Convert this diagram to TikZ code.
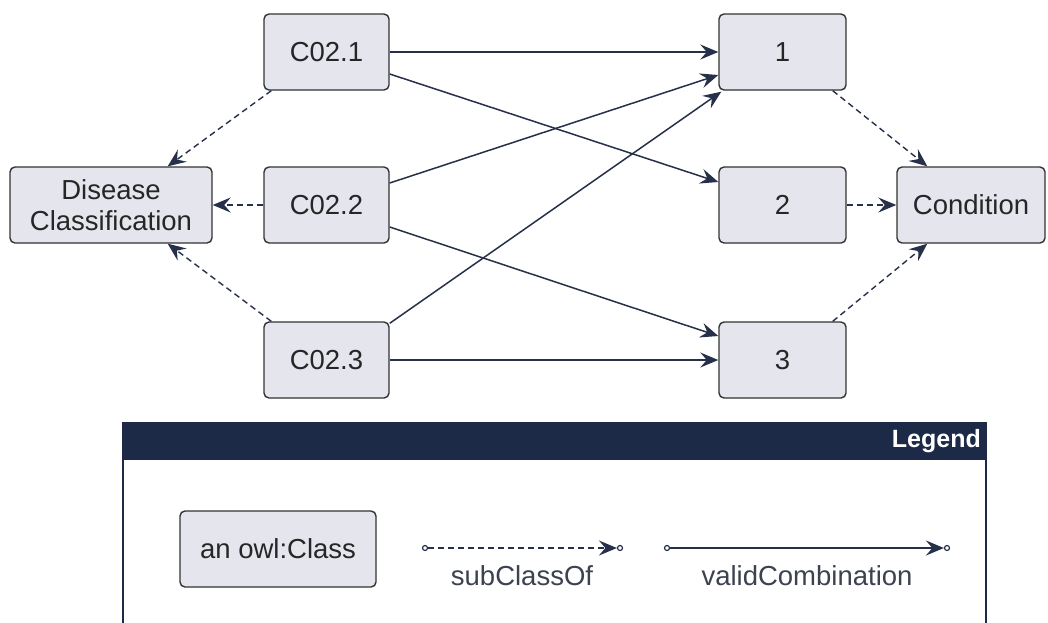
\documentclass[tikz,border=0pt]{standalone}
\usepackage{fontspec}
\setmainfont{Liberation Sans}
\usetikzlibrary{arrows.meta}
\definecolor{boxfill}{HTML}{E5E5EE}
\definecolor{boxline}{HTML}{333333}
\definecolor{edgecol}{HTML}{263048}
\definecolor{headcol}{HTML}{1C2A47}
\definecolor{txtcol}{HTML}{262626}
\definecolor{lbltxt}{HTML}{3C4250}
\tikzset{
  classbox/.style={rectangle, rounded corners=5pt, draw=boxline, line width=1.4pt,
    fill=boxfill, inner sep=0pt, align=center, text=txtcol,
    font=\fontsize{27.5}{31}\selectfont},
  tip/.style={-{Stealth[length=18pt,width=15pt,inset=6.5pt]}},
  validcomb/.style={tip, draw=edgecol, line width=1.5pt},
  subclass/.style={tip, draw=edgecol, line width=1.4pt, dash pattern=on 6pt off 4pt},
  endring/.style={circle, draw=edgecol, fill=white, line width=1.2pt, inner sep=0pt, minimum size=5pt},
  legendlabel/.style={text=lbltxt, font=\fontsize{27.5}{31}\selectfont, inner sep=0pt}
}
\begin{document}
\begin{tikzpicture}[x=1pt,y=-1pt]
\useasboundingbox (0,0) rectangle (1048,622);
\fill[white] (0,0) rectangle (1048,622);

% classes
\node[classbox, minimum width=125pt, minimum height=76pt] (c1) at (326.5,52) {C02.1};
\node[classbox, minimum width=125pt, minimum height=76pt] (c2) at (326.5,205) {C02.2};
\node[classbox, minimum width=125pt, minimum height=76pt] (c3) at (326.5,360) {C02.3};
\node[classbox, minimum width=202pt, minimum height=76pt] (dc) at (111,205) {Disease\\Classification};
\node[classbox, minimum width=127pt, minimum height=76pt] (n1) at (782.5,52) {1};
\node[classbox, minimum width=127pt, minimum height=76pt] (n2) at (782.5,205) {2};
\node[classbox, minimum width=127pt, minimum height=76pt] (n3) at (782.5,360) {3};
\node[classbox, minimum width=148pt, minimum height=76pt] (cond) at (971,205) {Condition};

% validCombination links
\draw[validcomb] (c1.east) -- (n1.west);
\draw[validcomb] ([yshift=-22pt]c1.east) -- ([yshift=23pt]n2.west);
\draw[validcomb] ([yshift=22pt]c2.east) -- ([yshift=-23pt]n1.west);
\draw[validcomb] ([yshift=-2pt]c3.north east) -- ([xshift=3pt,yshift=-1pt]n1.south west);
\draw[validcomb] ([yshift=-22pt]c2.east) -- ([yshift=24pt]n3.west);
\draw[validcomb] (c3.east) -- (n3.west);

% subClassOf links
\draw[subclass] ([xshift=8pt]c1.south west) -- ([xshift=-45pt]dc.north east);
\draw[subclass] (c2.west) -- (dc.east);
\draw[subclass] ([xshift=8pt]c3.north west) -- ([xshift=-45pt]dc.south east);
\draw[subclass] ([xshift=-14pt]n1.south east) -- ([xshift=31pt]cond.north west);
\draw[subclass] (n2.east) -- (cond.west);
\draw[subclass] ([xshift=-14pt]n3.north east) -- ([xshift=31pt]cond.south west);

% legend frame
\fill[headcol] (123,422) rectangle (986,460);
\draw[headcol, line width=1.4pt] (123,422) -- (123,630);
\draw[headcol, line width=1.4pt] (986,422) -- (986,630);
\node[anchor=east, text=white, font=\fontsize{25}{29}\selectfont\bfseries, inner sep=0pt] (legtitle) at (981,441) {Legend};

% legend entries
\node[classbox, minimum width=196pt, minimum height=76pt] (owl) at (278,549) {an owl:Class};

\node[endring] (sa) at (425,548) {};
\node[endring] (sb) at (620,548) {};
\draw[subclass] (sa) -- (sb);
\node[legendlabel] (slbl) at (522,576) {subClassOf};

\node[endring] (va) at (667,548) {};
\node[endring] (vb) at (947,548) {};
\draw[validcomb] (va) -- (vb);
\node[legendlabel] (vlbl) at (807,576) {validCombination};
\end{tikzpicture}
\end{document}
